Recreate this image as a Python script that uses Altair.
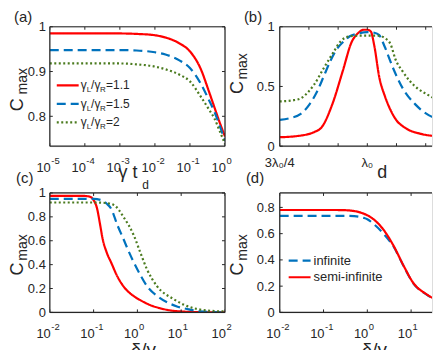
import altair as alt
import pandas as pd

FONT = "Liberation Sans"
AX = "#262626"
RED = "#ff0000"
BLUE = "#0072bd"
GREEN = "#4b7b1f"
WL, WR, H = 176, 153, 120

# ---------------- data ----------------
# (a)  Cmax vs gamma*t_d
a_x = [1e-5, 1e-4, 1e-3, 3e-3, 1e-2, 0.02, 0.05, 0.1, 0.2, 0.35, 0.5, 0.7, 1.0]
a_red = [0.985, 0.985, 0.985, 0.984, 0.981, 0.976, 0.963, 0.945, 0.907, 0.855, 0.82, 0.787, 0.755]
a_blue = [0.948, 0.948, 0.948, 0.947, 0.943, 0.938, 0.925, 0.908, 0.874, 0.836, 0.81, 0.78, 0.745]
a_green = [0.918, 0.918, 0.918, 0.916, 0.911, 0.905, 0.893, 0.878, 0.845, 0.815, 0.795, 0.768, 0.738]
a_xticks = [1e-5, 1e-4, 1e-3, 1e-2, 1e-1, 1.0]
a_xexp = ["-5", "-4", "-3", "-2", "-1", "0"]
a_yticks = [0.8, 0.9, 1.0]
a_ylabels = ["0.8", "0.9", "1"]

# (b)  Cmax vs d (units of lambda0); the figure is cut at the right edge
b_red_x = [0.75, 0.80, 0.85, 0.87, 0.90, 0.93, 0.955, 0.975, 0.99, 1.0, 1.01, 1.02, 1.034, 1.05, 1.062, 1.08, 1.11, 1.15, 1.19, 1.25]
b_red = [0.075, 0.085, 0.12, 0.16, 0.35, 0.63, 0.87, 0.95, 0.975, 0.975, 0.96, 0.84, 0.58, 0.42, 0.33, 0.23, 0.15, 0.105, 0.085, 0.07]
b_blue_x = [0.75, 0.78, 0.81, 0.835, 0.857, 0.875, 0.894, 0.91, 0.932, 0.95, 0.97, 1.0, 1.02, 1.034, 1.05, 1.074, 1.10, 1.137, 1.175, 1.20, 1.25]
b_blue = [0.22, 0.235, 0.27, 0.35, 0.46, 0.58, 0.71, 0.80, 0.875, 0.92, 0.94, 0.955, 0.95, 0.93, 0.83, 0.65, 0.49, 0.35, 0.26, 0.23, 0.21]
b_green_x = [0.75, 0.79, 0.81, 0.83, 0.847, 0.875, 0.904, 0.923, 0.95, 0.98, 1.0, 1.03, 1.053, 1.067, 1.08, 1.10, 1.12, 1.145, 1.167, 1.20, 1.25]
b_green = [0.375, 0.385, 0.40, 0.45, 0.51, 0.65, 0.79, 0.875, 0.92, 0.925, 0.925, 0.925, 0.90, 0.85, 0.73, 0.63, 0.55, 0.48, 0.44, 0.39, 0.37]
b_xticks = [0.75, 0.8333, 0.9167, 1.0, 1.0833, 1.1667, 1.25]
b_labticks = [0.75, 1.0]
b_xlabels = ["3λ₀/4", "λ₀"]
b_yticks = [0, 0.5, 1]
b_ylabels = ["0", "0.5", "1"]
b_domain = [0.75, 0.75 + 0.5 * WR / WL]

# (c)  Cmax vs delta/gamma
c_red_x = [0.01, 0.03, 0.06, 0.08, 0.1, 0.12, 0.14, 0.16, 0.2, 0.25, 0.35, 0.5, 0.8, 1.2, 2, 3.3, 6, 10, 30, 100]
c_red = [0.975, 0.975, 0.975, 0.97, 0.94, 0.87, 0.74, 0.62, 0.5, 0.42, 0.3, 0.21, 0.14, 0.1, 0.06, 0.035, 0.015, 0.008, 0.002, 0.0]
c_blue_x = [0.01, 0.05, 0.1, 0.15, 0.2, 0.25, 0.35, 0.5, 0.6, 1.0, 1.66, 3.3, 8, 15, 27, 100]
c_blue = [0.95, 0.95, 0.95, 0.94, 0.91, 0.87, 0.73, 0.6, 0.53, 0.36, 0.22, 0.12, 0.05, 0.025, 0.008, 0.0]
c_green_x = [0.01, 0.05, 0.12, 0.2, 0.29, 0.5, 0.83, 1.17, 1.66, 2.8, 6.8, 19, 65, 100]
c_green = [0.92, 0.92, 0.92, 0.915, 0.9, 0.79, 0.644, 0.5, 0.36, 0.22, 0.11, 0.036, 0.01, 0.008]
c_xticks = [0.01, 0.1, 1, 10, 100]
c_xexp = ["-2", "-1", "0", "1", "2"]
c_yticks = [0, 0.2, 0.4, 0.6, 0.8, 1.0]
c_ylabels = ["0", "0.2", "0.4", "0.6", "0.8", "1"]

# (d)  Cmax vs delta/gamma, infinite vs semi-infinite (cut at right edge)
d_x = [0.01, 0.1, 0.2, 0.35, 0.5, 0.69, 0.83, 1.0, 1.38, 2.34, 4, 6.8, 11.2, 23, 46, 100]
d_semi = [0.78, 0.78, 0.78, 0.778, 0.772, 0.762, 0.752, 0.74, 0.71, 0.63, 0.506, 0.353, 0.225, 0.136, 0.084, 0.045]
d_inf = [0.735, 0.735, 0.735, 0.735, 0.733, 0.727, 0.72, 0.71, 0.675, 0.6, 0.5, 0.35, 0.222, 0.134, 0.082, 0.044]
d_xticks = [0.01, 0.1, 1, 10]
d_xexp = ["-2", "-1", "0", "1"]
d_yticks = [0, 0.2, 0.4, 0.6, 0.8]
d_ylabels = ["0", "0.2", "0.4", "0.6", "0.8"]
d_domain = [0.01, 10 ** (-2 + 4 * WR / WL)]

legend_a = ["=1.1", "=1.5", "=2"]
legend_d = ["infinite", "semi-infinite"]

SOLID = [1, 0]
DASH = [9, 5]
DOT = [2, 2.5]


def enc(scale, ch):
    if ch == "x":
        return lambda f: alt.X(f, type="quantitative", scale=scale, axis=None)
    return lambda f: alt.Y(f, type="quantitative", scale=scale, axis=None)


def line(xs, ys, color, dash, X, Y):
    df = pd.DataFrame({"x": xs, "y": ys})
    return alt.Chart(df).mark_line(color=color, strokeWidth=2.2, strokeDash=dash,
                                   interpolate="monotone", clip=True).encode(x=X("x"), y=Y("y"))


def txt(s, x, y, size, angle=0, align="left", baseline="alphabetic", color=AX):
    return alt.Chart(pd.DataFrame({"t": [s]})).mark_text(
        font=FONT, fontSize=size, align=align, baseline=baseline, angle=angle, color=color
    ).encode(x=alt.value(x), y=alt.value(y), text="t:N")


def frame(X, Y, xt, yt, W, right=True):
    dx = pd.DataFrame({"x": xt})
    dy = pd.DataFrame({"y": yt})
    one = pd.DataFrame({"k": [0]})
    r = dict(color=AX, strokeWidth=1.2)
    out = [
        alt.Chart(one).mark_rule(**r).encode(x=alt.value(0), x2=alt.value(W), y=alt.value(0)),
        alt.Chart(one).mark_rule(**r).encode(x=alt.value(0), x2=alt.value(W), y=alt.value(H)),
        alt.Chart(one).mark_rule(**r).encode(x=alt.value(0), y=alt.value(0), y2=alt.value(H)),
    ]
    if right:
        out.append(alt.Chart(one).mark_rule(**r).encode(x=alt.value(W), y=alt.value(0), y2=alt.value(H)))
    for y0, y1 in [(H, H - 3), (0, 3)]:
        out.append(alt.Chart(dx).mark_rule(color=AX, strokeWidth=1, clip=True).encode(
            x=X("x"), y=alt.value(y0), y2=alt.value(y1)))
    for x0, x1 in ([(0, 3), (W, W - 3)] if right else [(0, 3)]):
        out.append(alt.Chart(dy).mark_rule(color=AX, strokeWidth=1).encode(
            y=Y("y"), x=alt.value(x0), x2=alt.value(x1)))
    return out


def ylabels(Y, ticks, labels, gap):
    df = pd.DataFrame({"y": ticks, "t": labels})
    return [alt.Chart(df).mark_text(font=FONT, fontSize=13, color=AX, align="right",
                                    baseline="middle", dy=0.5).encode(
        y=Y("y"), x=alt.value(-gap), text="t:N")]


def loglabels(X, ticks, exps):
    df = pd.DataFrame({"x": ticks, "b": ["10"] * len(ticks), "e": exps})
    base = alt.Chart(df).mark_text(font=FONT, fontSize=13, color=AX, align="right", dx=1).encode(
        x=X("x"), y=alt.value(H + 21.5), text="b:N")
    sup = alt.Chart(df).mark_text(font=FONT, fontSize=9.5, color=AX, align="left", dx=1.5).encode(
        x=X("x"), y=alt.value(H + 15), text="e:N")
    return [base, sup]


def cmax(xc, yc, xm, ym):
    return [txt("C", xc, yc, 18, angle=270), txt("max", xm, ym, 14, angle=270)]


def seg(x0, x1, y, color, dash):
    return alt.Chart(pd.DataFrame({"k": [0]})).mark_rule(
        color=color, strokeWidth=2.2, strokeDash=dash).encode(
        x=alt.value(x0), x2=alt.value(x1), y=alt.value(y))


# ---------------- panel a ----------------
Xa = enc(alt.Scale(type="log", domain=[1e-5, 1]), "x")
Ya = enc(alt.Scale(domain=[0.7333, 1.0], zero=False, nice=False), "y")
la = [line(a_x, a_red, RED, SOLID, Xa, Ya),
      line(a_x, a_blue, BLUE, DASH, Xa, Ya),
      line(a_x, a_green, GREEN, DOT, Xa, Ya)]
la += frame(Xa, Ya, a_xticks, a_yticks, WL)
la += ylabels(Ya, a_yticks, a_ylabels, 4)
la += loglabels(Xa, a_xticks, a_xexp)
la += cmax(-27, 85, -23, 68)
la += [txt("(a)", -36, -5, 15), txt("γ t", 69, H + 32, 18), txt("d", 93, H + 43, 12)]
# invisible anchor fixing the top-left corner of the whole figure
la.append(alt.Chart(pd.DataFrame({"k": [0]})).mark_rule(strokeOpacity=0, strokeWidth=1).encode(
    x=alt.value(-40.5), x2=alt.value(-40.5), y=alt.value(-16.5), y2=alt.value(-15)))
for i, (c, d, lab) in enumerate(zip([RED, BLUE, GREEN], [SOLID, DASH, DOT], legend_a)):
    yy = 59 + i * 18.5
    la.append(seg(7, 29, yy, c, d))
    la += [txt("γ", 31, yy + 4, 12), txt("L", 37, yy + 7, 8), txt("/γ", 41.5, yy + 4, 12),
           txt("R", 50.5, yy + 7, 8), txt(lab, 56.5, yy + 4, 12)]
pa = alt.layer(*la).properties(width=WL, height=H)

# ---------------- panel b ----------------
Xb = enc(alt.Scale(domain=b_domain, nice=False, zero=False), "x")
Yb = enc(alt.Scale(domain=[0, 1], nice=False), "y")
lb = [line(b_red_x, b_red, RED, SOLID, Xb, Yb),
      line(b_blue_x, b_blue, BLUE, DASH, Xb, Yb),
      line(b_green_x, b_green, GREEN, DOT, Xb, Yb)]
lb += frame(Xb, Yb, [t for t in b_xticks if t <= b_domain[1]], b_yticks, WR, right=False)
lb += ylabels(Yb, b_yticks, b_ylabels, 5)
lb.append(alt.Chart(pd.DataFrame({"x": b_labticks, "t": b_xlabels})).mark_text(
    font=FONT, fontSize=13, color=AX, align="center").encode(
    x=Xb("x"), y=alt.value(H + 17), text="t:N"))
lb += cmax(-37, 67.5, -33, 53)
lb += [txt("(b)", -36, -5, 15), txt("d", 98, H + 32, 18)]
pb = alt.layer(*lb).properties(width=WR, height=H)

# ---------------- panel c ----------------
Xc = enc(alt.Scale(type="log", domain=[0.01, 100]), "x")
Yc = enc(alt.Scale(domain=[0, 1], nice=False), "y")
lc = [line(c_red_x, c_red, RED, SOLID, Xc, Yc),
      line(c_blue_x, c_blue, BLUE, DASH, Xc, Yc),
      line(c_green_x, c_green, GREEN, DOT, Xc, Yc)]
lc += frame(Xc, Yc, c_xticks, c_yticks, WL)
lc += ylabels(Yc, c_yticks, c_ylabels, 4)
lc += loglabels(Xc, c_xticks, c_xexp)
lc += cmax(-27, 83, -23, 68)
lc += [txt("(c)", -34, -10, 15), txt("δ/γ", 94, H + 44, 19, align="center")]
pc = alt.layer(*lc).properties(width=WL, height=H)

# ---------------- panel d ----------------
Xd = enc(alt.Scale(type="log", domain=d_domain), "x")
Yd = enc(alt.Scale(domain=[0, 0.91], nice=False), "y")
ld = [line(d_x, d_inf, BLUE, DASH, Xd, Yd),
      line(d_x, d_semi, RED, SOLID, Xd, Yd)]
ld += frame(Xd, Yd, d_xticks, d_yticks, WR, right=False)
ld += ylabels(Yd, d_yticks, d_ylabels, 5)
ld += loglabels(Xd, d_xticks, d_xexp)
ld += cmax(-37, 83, -33, 68)
ld += [txt("(d)", -34, -10, 15), txt("δ/γ", 95, H + 44, 19, align="center")]
ld += [seg(9, 31, 68, BLUE, DASH), txt(legend_d[0], 34, 68, 13, baseline="middle"),
       seg(9, 31, 84.7, RED, SOLID), txt(legend_d[1], 34, 84.7, 13, baseline="middle")]
pd_ = alt.layer(*ld).properties(width=WR, height=H)

chart = alt.concat(pa, pb, pc, pd_, columns=2, spacing={"row": 47, "column": 55},
                   bounds="flush").properties(
    padding={"left": 0, "top": 0, "right": 0, "bottom": 0}
).configure_view(strokeWidth=0).configure(background="white")

chart.save("out.html", embed_options={"renderer": "svg", "actions": False})
